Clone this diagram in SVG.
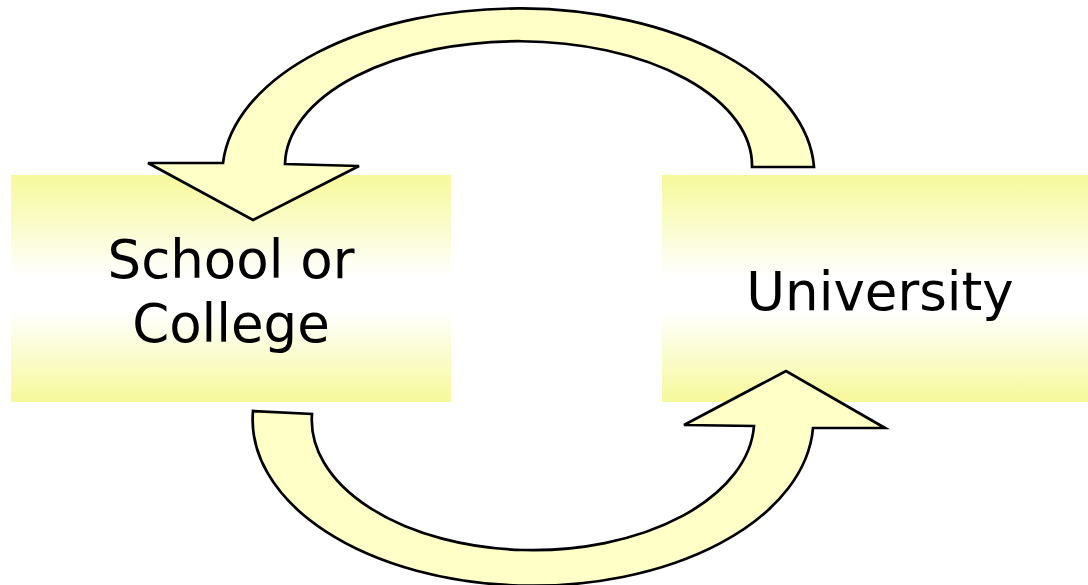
<svg xmlns="http://www.w3.org/2000/svg" width="1088" height="585" viewBox="0 0 1088 585">
<defs>
<linearGradient id="boxg" x1="0" y1="0" x2="0" y2="1">
<stop offset="0" stop-color="#F6F99A"/>
<stop offset="0.45" stop-color="#FFFFFF"/>
<stop offset="0.6" stop-color="#FFFFFF"/>
<stop offset="1" stop-color="#F6F99A"/>
</linearGradient>
<style>
.box{fill:url(#boxg);stroke:none}
.lbl{font-family:"DejaVu Sans",Verdana,sans-serif;font-size:53px;fill:#000;text-anchor:middle}
.arr{fill:#FFFFC8;stroke:#000;stroke-width:2.7;stroke-linejoin:miter}
</style>
</defs>
<rect width="1088" height="585" fill="#FFFFFF"/>
<g id="school">
<rect class="box" x="11" y="175" width="440" height="227"/>
<text class="lbl" x="231" y="278">School or</text>
<text class="lbl" x="231" y="342">College</text>
</g>
<g id="university">
<rect class="box" x="662" y="175" width="426" height="227"/>
<text class="lbl" x="880" y="310">University</text>
</g>
<g id="connectors">
<path class="arr" d="M 814,167 A 296 166 0 0 0 223,163 L 148,163 L 253,220 L 359,166 L 285,164 A 233 124 0 0 1 752,167 Z"/>
<path class="arr" d="M 253,411 A 280 166 0 0 0 813,428 L 885,428 L 786,371 L 684,425 L 754,426 A 221 130 0 0 1 312,414 Z"/>
</g>
</svg>
